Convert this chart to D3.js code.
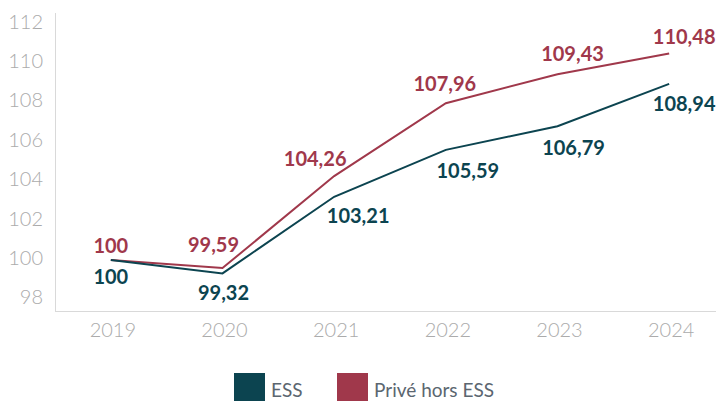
<!DOCTYPE html>
<html><head><meta charset="utf-8">
<script src="https://cdn.jsdelivr.net/npm/d3@7"></script>
<style>body{margin:0;background:#fff}svg{display:block}</style>
</head><body>
<svg id="c" width="716" height="401"></svg>
<script>
const years = ["2019","2020","2021","2022","2023","2024"];
const essValues = [100, 99.32, 103.21, 105.59, 106.79, 108.94];
const priveValues = [100, 99.59, 104.26, 107.96, 109.43, 110.48];
const yTicks = [98,100,102,104,106,108,110,112];
const seriesNames = ["ESS","Privé hors ESS"];
// label offsets (px) relative to each point
const priveLabelOffsets = [[0,-15],[-9,-24],[-19,-18],[-1,-20],[15,-21],[15,-18]];
const essLabelOffsets = [[0,16],[1,19],[24,18],[22,20],[16,21],[15,19]];

const colors = {ess:"#0c4450", prive:"#a0384b"};
const fmt = v => String(v).replace(".", ",");
const svg = d3.select("#c");
const x = d3.scaleBand().domain(years).range([55,725]).padding(0);
const y = d3.scaleLinear().domain([97.41,112.54]).range([311,13]);
const cx = d => x(d) + x.bandwidth()/2;

// axes lines
svg.append("line").attr("x1",55.5).attr("x2",55.5).attr("y1",13).attr("y2",311)
  .attr("stroke","#d9d9d9").attr("stroke-width",1);
svg.append("line").attr("x1",55).attr("x2",716).attr("y1",311.5).attr("y2",311.5)
  .attr("stroke","#d9d9d9").attr("stroke-width",1);

// y tick labels
svg.append("g").selectAll("text").data(yTicks).join("text")
  .attr("x",43).attr("y",d=>y(d)-3)
  .attr("text-anchor","end").attr("dominant-baseline","central")
  .attr("font-family","Lato").attr("font-weight",300).attr("font-size",20)
  .attr("fill","#ababab").text(d=>d);

// x tick labels
svg.append("g").selectAll("text").data(years).join("text")
  .attr("x",d=>cx(d)+2).attr("y",329)
  .attr("text-anchor","middle").attr("dominant-baseline","central")
  .attr("font-family","Lato").attr("font-weight",300).attr("font-size",20)
  .attr("fill","#ababab").text(d=>d);

const line = d3.line().x((d,i)=>cx(years[i])).y(d=>y(d));
svg.append("path").datum(priveValues).attr("d",line).attr("fill","none")
  .attr("stroke",colors.prive).attr("stroke-width",2);
svg.append("path").datum(essValues).attr("d",line).attr("fill","none")
  .attr("stroke",colors.ess).attr("stroke-width",2);

function labels(vals, offs, col){
  svg.append("g").selectAll("text").data(vals).join("text")
    .attr("x",(d,i)=>cx(years[i])+offs[i][0])
    .attr("y",(d,i)=>y(d)+offs[i][1])
    .attr("text-anchor","middle").attr("dominant-baseline","central")
    .attr("font-family","Lato").attr("font-weight",700).attr("font-size",20)
    .attr("fill",col).text(d=>fmt(d));
}
labels(priveValues, priveLabelOffsets, colors.prive);
labels(essValues, essLabelOffsets, colors.ess);

// legend
const leg = [{n:seriesNames[0],c:colors.ess,x:234},{n:seriesNames[1],c:colors.prive,x:337}];
const lg = svg.append("g");
lg.selectAll("rect").data(leg).join("rect")
  .attr("x",d=>d.x).attr("y",373).attr("width",31).attr("height",31).attr("fill",d=>d.c);
lg.selectAll("text").data(leg).join("text")
  .attr("x",d=>d.x+37).attr("y",389).attr("dominant-baseline","central")
  .attr("font-family","Lato").attr("font-size",19).attr("fill","#5b6670").text(d=>d.n);
</script>
</body></html>
